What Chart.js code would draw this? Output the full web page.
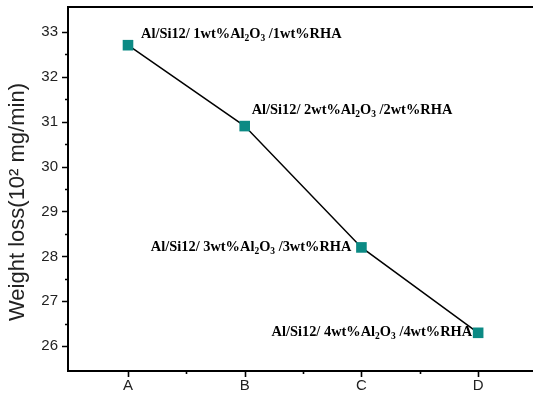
<!DOCTYPE html>
<html>
<head>
<meta charset="utf-8">
<script src="https://cdn.jsdelivr.net/npm/chart.js@4"></script>
<style>
  html, body { margin: 0; padding: 0; background: #ffffff; }
  #wrap { width: 533px; height: 398px; }
</style>
</head>
<body>
<div id="wrap"><canvas id="c" width="533" height="398"></canvas></div>
<script>
// ---- data ----
const categories = ['A', 'B', 'C', 'D'];
const weightLoss = [32.7, 30.9, 28.2, 26.3];
const reinforcementPct = [1, 2, 3, 4];
const yTickValues = [26, 27, 28, 29, 30, 31, 32, 33];
const yAxisTitle = 'Weight loss(10² mg/min)';

// label parts for each point (text, with subscript parts)
function labelParts(p) {
  return [
    { t: 'Al/Si12/ ' + p + 'wt%Al' },
    { t: '2', sub: true },
    { t: 'O' },
    { t: '3', sub: true },
    { t: ' /' + p + 'wt%RHA' }
  ];
}

// label placement style (offsets from the point, in px)
const labelStyle = [
  { align: 'left',  dx: 13,  dy: -7 },
  { align: 'left',  dx: 7,   dy: -12 },
  { align: 'right', dx: -10, dy: 4 },
  { align: 'right', dx: -6,  dy: 3 }
];

const FONT_LABEL = 'bold 14.4px "Liberation Serif", "Times New Roman", serif';
const FONT_SUB = 'bold 9.5px "Liberation Serif", "Times New Roman", serif';
const FONT_TITLE = '22px "Liberation Sans", Arial, sans-serif';

const annotationPlugin = {
  id: 'annot',
  afterDatasetsDraw(chart) {
    const ctx = chart.ctx;
    const meta = chart.getDatasetMeta(0);
    ctx.save();
    ctx.fillStyle = '#000';
    ctx.textBaseline = 'alphabetic';
    ctx.textAlign = 'left';
    meta.data.forEach((pt, i) => {
      const parts = labelParts(reinforcementPct[i]);
      let total = 0;
      parts.forEach(p => { ctx.font = p.sub ? FONT_SUB : FONT_LABEL; p.w = ctx.measureText(p.t).width; total += p.w; });
      const st = labelStyle[i];
      let x = st.align === 'left' ? pt.x + st.dx : pt.x + st.dx - total;
      const base = pt.y + st.dy;
      parts.forEach(p => {
        ctx.font = p.sub ? FONT_SUB : FONT_LABEL;
        ctx.fillText(p.t, x, p.sub ? base + 3 : base);
        x += p.w;
      });
    });
    ctx.restore();
  }
};

const frameTicksPlugin = {
  id: 'frameTicks',
  afterDraw(chart) {
    const ctx = chart.ctx;
    const a = chart.chartArea;
    const xs = chart.scales.x, ys = chart.scales.y;
    ctx.save();
    ctx.strokeStyle = '#000';
    // top frame line
    ctx.lineWidth = 2;
    ctx.beginPath();
    ctx.moveTo(a.left - 1, a.top);
    ctx.lineTo(a.right, a.top);
    ctx.stroke();
    ctx.lineWidth = 1.6;
    // y ticks (major + minor)
    ctx.beginPath();
    yTickValues.forEach(v => {
      const y = Math.round(ys.getPixelForValue(v)) + 0.5;
      ctx.moveTo(a.left, y); ctx.lineTo(a.left - 6, y);
      if (v < yTickValues[yTickValues.length - 1]) {
        const ym = Math.round(ys.getPixelForValue(v + 0.5)) + 0.5;
        ctx.moveTo(a.left, ym); ctx.lineTo(a.left - 3, ym);
      }
    });
    // x ticks
    categories.forEach((c, i) => {
      const x = Math.round(xs.getPixelForValue(i)) + 0.5;
      ctx.moveTo(x, a.bottom); ctx.lineTo(x, a.bottom + 6);
      if (i < categories.length - 1) {
        const xm = Math.round(xs.getPixelForValue(i + 0.5)) + 0.5;
        ctx.moveTo(xm, a.bottom); ctx.lineTo(xm, a.bottom + 3);
      }
    });
    ctx.stroke();
    // y-axis title (rotated)
    ctx.font = FONT_TITLE;
    ctx.fillStyle = '#222';
    ctx.textAlign = 'center';
    ctx.textBaseline = 'middle';
    ctx.translate(18, 202);
    ctx.rotate(-Math.PI / 2);
    ctx.fillText(yAxisTitle, 0, 0);
    ctx.restore();
  }
};

new Chart(document.getElementById('c'), {
  type: 'line',
  data: {
    datasets: [{
      data: weightLoss.map((v, i) => ({ x: i, y: v })),
      borderColor: '#000',
      borderWidth: 1.5,
      pointStyle: 'rect',
      pointRadius: 7.5,
      pointHoverRadius: 7.5,
      pointBackgroundColor: '#0b8a84',
      pointBorderColor: '#0b8a84',
      pointBorderWidth: 0,
      tension: 0,
      fill: false
    }]
  },
  options: {
    responsive: false,
    animation: false,
    events: [],
    layout: { autoPadding: false, padding: { top: 7, right: 0, left: 0, bottom: 0 } },
    plugins: { legend: { display: false }, tooltip: { enabled: false } },
    scales: {
      x: {
        type: 'linear',
        min: -0.514,
        max: 3.47,
        afterBuildTicks(s) { s.ticks = categories.map((c, i) => ({ value: i })); },
        afterFit(s) { s.height = 27; s.paddingLeft = 0; s.paddingRight = 0; },
        grid: { display: false, drawTicks: false },
        border: { display: true, color: '#000', width: 2 },
        ticks: {
          padding: 6,
          color: '#222',
          font: { family: '"Liberation Sans", Arial, sans-serif', size: 15 },
          callback: (v) => categories[v] ?? ''
        }
      },
      y: {
        min: 25.45,
        max: 33.55,
        afterBuildTicks(s) { s.ticks = yTickValues.map(v => ({ value: v })); },
        afterFit(s) { s.width = 68; s.paddingTop = 0; s.paddingBottom = 0; },
        grid: { display: false, drawTicks: false },
        border: { display: true, color: '#000', width: 2 },
        title: { display: false },
        ticks: {
          padding: 10,
          color: '#222',
          font: { family: '"Liberation Sans", Arial, sans-serif', size: 15 }
        }
      }
    }
  },
  plugins: [annotationPlugin, frameTicksPlugin]
});
</script>
</body>
</html>
